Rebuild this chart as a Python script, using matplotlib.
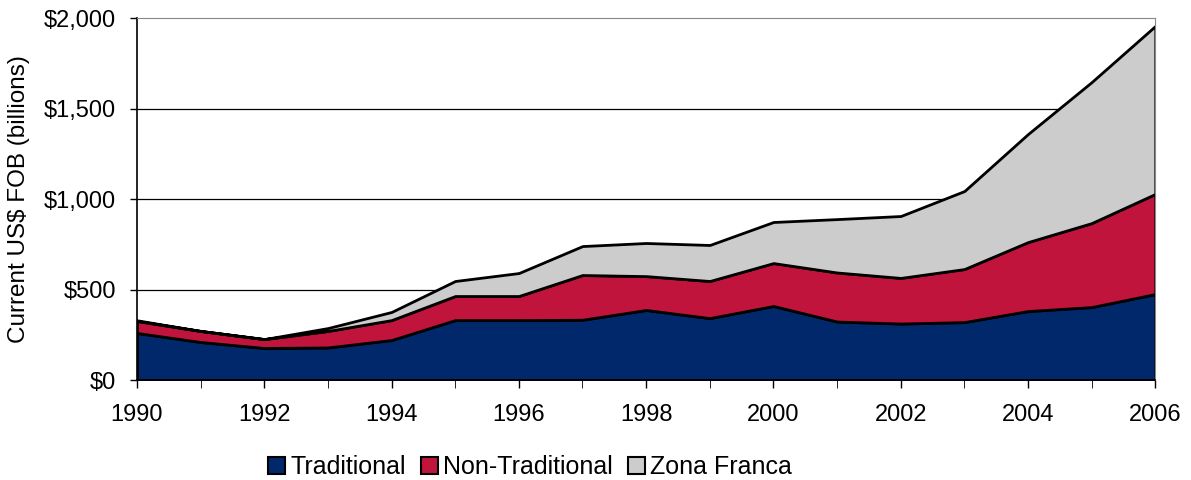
import matplotlib.pyplot as plt
import numpy as np

plt.rcParams['font.family'] = ['Liberation Sans', 'DejaVu Sans']

years = np.arange(1990, 2007)
traditional = [260, 210, 177, 180, 221, 331, 331, 333, 387, 342, 409, 323, 312, 320, 381, 403, 475]
non_traditional = [66, 61, 49, 91, 110, 133, 133, 247, 187, 205, 237, 271, 252, 293, 381, 464, 553]
zona_franca = [4, 0, 0, 16, 45, 83, 127, 160, 183, 199, 227, 295, 342, 431, 597, 779, 928]

labels = ['Traditional', 'Non-Traditional', 'Zona Franca']
colors = ['#00286A', '#C1143C', '#CCCCCC']

fig = plt.figure(figsize=(11.91, 4.8), dpi=100)
ax = fig.add_axes([0.115, 0.2083, 0.855, 0.7542])

# grid first so the areas sit on top
for v in [500, 1000, 1500]:
    ax.axhline(v, color='black', lw=0.9, zorder=0)

ax.stackplot(years, traditional, non_traditional, zona_franca,
             colors=colors, labels=labels, edgecolor='black',
             linewidth=2.0, zorder=2)

ax.set_xlim(1990, 2006)
ax.set_ylim(0, 2000)
ax.set_xticks(years, minor=True)
ax.set_xticks(np.arange(1990, 2007, 2))
ax.set_yticks([0, 500, 1000, 1500, 2000])
ax.set_yticklabels(['$0', '$500', '$1,000', '$1,500', '$2,000'])
ax.tick_params(axis='both', labelsize=17, direction='out', color='black', width=1)
ax.tick_params(axis='x', which='both', length=6, pad=11)
ax.tick_params(axis='y', length=5, pad=10)
ax.set_ylabel('Current US$ FOB (billions)', fontsize=17.5, labelpad=10)

ax.spines['top'].set_color('#888888')
ax.spines['right'].set_color('#888888')
ax.spines['left'].set_linewidth(1.2)
ax.spines['bottom'].set_linewidth(1.2)

handles = [plt.Rectangle((0, 0), 1, 1, facecolor=c, edgecolor='black', lw=1.5) for c in colors]
fig.legend(handles, labels, loc='center', bbox_to_anchor=(530 / 1191, 1 - 467 / 480),
           ncol=3, frameon=False, fontsize=18, handlelength=0.7, handleheight=0.7,
           handletextpad=0.2, columnspacing=0.6)

fig.savefig('out.png', dpi=100)
